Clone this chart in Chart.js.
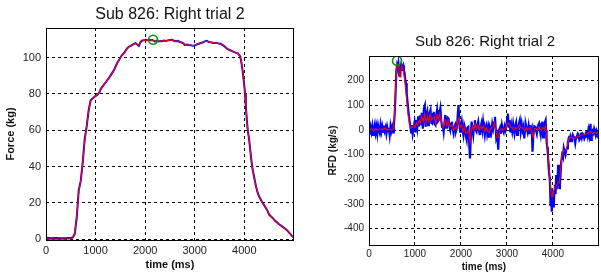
<!DOCTYPE html>
<html><head><meta charset="utf-8">
<script src="https://cdn.jsdelivr.net/npm/chart.js@4/dist/chart.umd.min.js"></script>
<style>
html,body{margin:0;padding:0;background:#fff;overflow:hidden;width:601px;height:273px;}
canvas{position:absolute;top:0;}
#c1{left:0;} #c2{left:305px;}
</style></head><body>
<canvas id="c1" width="300" height="273"></canvas>
<canvas id="c2" width="300" height="273"></canvas>
<script>
// ---------- data ----------
const chartTitle = "Sub 826: Right trial 2";
const xTicks = [0, 1000, 2000, 3000, 4000];
const forceTicks = [0, 20, 40, 60, 80, 100];
const rfdTicks = [-400, -300, -200, -100, 0, 100, 200];

const forceTime = [0,100,200,300,400,500,540,580,620,660,700,740,780,820,860,900,940,980,1040,1080,1110,1140,1175,1210,1240,1275,1310,1345,1375,1410,1445,1480,1510,1545,1575,1610,1640,1675,1710,1740,1775,1805,1840,1873,1905,1940,1975,2010,2040,2075,2110,2140,2170,2200,2235,2270,2300,2340,2380,2420,2460,2500,2540,2580,2620,2660,2700,2735,2770,2800,2840,2880,2920,2960,3000,3040,3080,3120,3160,3200,3240,3280,3320,3360,3400,3440,3480,3520,3560,3600,3630,3665,3700,3735,3765,3800,3835,3865,3895,3918,3940,3964,3985,4000,4015,4031,4050,4070,4098,4120,4140,4170,4200,4236,4270,4300,4340,4370,4400,4440,4470,4500,4540,4580,4620,4660,4700,4740,4780,4820,4860,4900,4940,4970,5000];
const forceRaw = [0.8,0.6,0.7,0.5,0.6,0.8,1.0,3,12,27,32,42,55,62,71,76.5,77.5,78.5,79.5,81,83,84,85.4,86.5,87.8,89,90.5,92,93.3,95.5,97.5,99,100.5,101.8,102.5,104,105.2,106.1,106.5,107,107.6,108,107.2,106.5,108.5,109.4,109.5,109.8,109.6,109.8,109.6,109.7,109.4,108.8,109.3,108.9,109.1,109.0,109.4,109.2,109.5,109.7,109.8,109.3,109.0,109.2,108.6,108.3,107.8,107.0,107.2,106.9,106.8,106.6,106.7,107.2,107.6,108.0,108.3,108.9,109.2,108.6,108.4,108.2,108.0,108.1,107.8,107.6,107.0,106.2,105.4,104.7,104.2,103.8,103.4,103.0,102.6,102.4,101.5,100.6,97.5,93.3,88,84.5,80,73,66,60,54.7,49,44,38,34,29,25.5,23.5,21.5,20,18.8,17,15.5,13.6,12.5,11.5,10.2,9.3,8.3,7.5,6.7,5.9,5.0,3.8,2.5,1.5,1.0];
const forceFilt = [0.1,0.1,0.1,0.1,0.1,0.3,0.8,3.5,12.5,26,32.5,42,54,62.5,70.5,76,77.6,78.6,79.6,81.2,82.8,84,85.3,86.6,87.7,89,90.4,92,93.4,95.4,97.4,99,100.4,101.7,102.6,104,105.1,106,106.6,107,107.5,107.8,107.3,106.8,108.3,109.2,109.5,109.7,109.6,109.7,109.6,109.6,109.3,109.0,109.2,109.0,109.1,109.1,109.3,109.3,109.5,109.6,109.7,109.3,109.1,109.1,108.6,108.2,107.8,107.2,107.1,106.9,106.8,106.7,106.8,107.2,107.6,108.0,108.4,108.8,109.0,108.7,108.4,108.2,108.1,108.0,107.8,107.5,107.0,106.2,105.5,104.8,104.2,103.8,103.4,103.0,102.7,102.3,101.5,100.2,97.2,93,88.3,84.3,79.8,73.3,66.3,60,54.5,49.2,44.2,38.2,33.8,29.2,25.6,23.4,21.4,20,18.7,17,15.6,13.7,12.4,11.4,10.3,9.3,8.3,7.5,6.7,5.9,4.9,3.8,2.6,1.6,1.0];
const forcePeak = [2160, 109.8];

const rfdTime = [0,18,36,54,72,90,108,126,144,162,180,198,216,234,252,270,288,306,324,342,360,378,396,414,432,450,468,486,504,522,540,560,580,595,610,625,640,655,670,685,700,715,730,745,760,775,790,805,820,840,860,880,900,915,930,950,970,990,1010,1030,1050,1070,1090,1110,1130,1150,1170,1195,1215,1231,1250,1267,1285,1302,1320,1338,1356,1374,1392,1409,1427,1445,1463,1481,1499,1517,1535,1552,1570,1588,1606,1624,1642,1660,1678,1695,1713,1731,1749,1767,1785,1802,1820,1838,1856,1874,1892,1910,1930,1946,1964,1981,2000,2017,2035,2053,2071,2089,2107,2124,2142,2160,2178,2196,2214,2232,2250,2267,2285,2303,2321,2339,2357,2375,2393,2410,2428,2446,2464,2482,2500,2518,2536,2554,2572,2590,2611,2625,2640,2660,2680,2700,2720,2740,2755,2768,2790,2811,2830,2850,2870,2890,2910,2930,2950,2970,2990,3005,3020,3040,3056,3075,3095,3115,3135,3163,3180,3200,3220,3240,3260,3280,3300,3320,3340,3360,3377,3395,3413,3430,3450,3470,3484,3500,3520,3540,3556,3575,3595,3613,3630,3650,3663,3680,3699,3716,3734,3752,3770,3788,3806,3822,3841,3852,3863,3877,3892,3903,3914,3925,3935,3948,3955,3963,3970,3978,3990,3999,4010,4021,4032,4043,4057,4071,4082,4092,4103,4114,4128,4142,4152,4163,4180,4200,4218,4236,4254,4271,4290,4307,4325,4343,4360,4378,4396,4414,4432,4450,4468,4485,4503,4521,4540,4557,4575,4593,4610,4630,4648,4665,4683,4700,4718,4736,4755,4772,4790,4807,4818,4829,4845,4862,4880,4897,4914,4930,4948,4966,4983,5000];
const rfdRaw = [0,-18,10,-8,15,-20,5,22,-10,12,-15,18,0,-12,20,-5,14,-8,18,-3,10,-14,12,-6,8,-20,16,-4,12,-10,15,70,160,240,262,250,270,240,215,250,265,240,255,262,240,230,200,190,150,110,70,40,15,-10,20,-15,10,30,-10,40,10,55,15,60,20,70,5,88,100,13,60,74,20,34,70,81,30,27,65,74,25,20,60,81,35,40,70,88,40,13,20,-7,30,61,10,27,50,47,15,0,25,34,5,-13,10,20,-5,7,60,101,30,-7,15,34,0,-20,20,7,-25,-40,10,13,-50,-115,-30,34,5,-20,15,40,0,-7,20,34,0,-20,10,27,0,34,5,-20,10,20,-15,5,-27,15,7,-10,25,5,30,54,10,-34,-20,-80,0,10,-15,20,0,-10,15,0,20,45,67,10,40,-10,20,-5,25,-13,15,30,-20,7,25,40,-5,25,0,15,-34,5,20,5,-10,15,-13,20,0,10,-88,-20,15,13,0,-15,7,20,27,0,-20,10,34,-30,-7,30,40,0,-47,-70,-101,-140,-168,-190,-209,-304,-250,-236,-300,-331,-290,-263,-310,-290,-250,-222,-260,-182,-240,-222,-200,-141,-200,-236,-220,-195,-130,-101,-110,-74,-90,-101,-80,-74,-50,-34,-40,-27,-45,-40,-20,-27,-35,-54,-30,-27,-15,-20,-40,-34,-10,-30,-15,-18,-35,-27,-10,-7,-25,0,-20,13,25,-40,-15,-5,-13,5,-7,-20,-5,-20,-10,-8];

const rfdFiltTime = [0,50,100,150,200,250,300,350,400,450,500,530,555,575,595,615,635,655,675,695,715,735,755,775,795,815,835,855,875,895,915,940,970,1000,1030,1060,1090,1120,1150,1180,1210,1240,1270,1300,1330,1360,1390,1420,1450,1480,1510,1540,1570,1600,1630,1660,1690,1720,1750,1780,1810,1840,1870,1900,1930,1955,1985,2015,2045,2075,2105,2135,2165,2195,2220,2250,2280,2310,2340,2370,2400,2430,2460,2490,2520,2550,2580,2610,2640,2670,2700,2730,2760,2790,2820,2850,2880,2910,2940,2970,3000,3030,3060,3090,3120,3150,3180,3210,3240,3270,3300,3330,3360,3390,3420,3450,3480,3510,3540,3570,3600,3630,3660,3690,3720,3750,3780,3810,3840,3860,3880,3900,3920,3940,3960,3980,4000,4020,4050,4080,4110,4140,4160,4180,4200,4230,4260,4290,4320,4350,4380,4420,4460,4500,4540,4580,4620,4660,4700,4740,4780,4820,4860,4900,4950,5000];
const rfdFilt = [0,5,-3,5,0,5,2,8,0,3,0,5,60,150,230,268,262,235,215,245,262,250,230,205,170,130,90,55,30,12,8,10,20,10,30,20,40,30,55,35,65,30,55,35,65,40,50,55,25,60,45,65,40,10,15,40,20,40,20,15,20,0,10,5,40,50,10,20,-5,10,-15,-10,0,-50,-10,15,0,25,5,20,0,15,5,15,-5,10,-5,-10,5,10,15,30,-5,-30,-30,0,5,0,5,5,25,30,20,10,10,0,10,5,10,20,10,10,5,-5,10,0,5,10,-10,-30,5,5,0,15,5,0,10,5,15,-20,-60,-110,-155,-210,-255,-270,-260,-245,-230,-225,-215,-215,-180,-130,-100,-85,-85,-80,-55,-35,-30,-30,-35,-30,-25,-25,-20,-20,-18,-15,-10,-5,-15,-10,-12,-10];
const rfdPeak = [609, 281];

// ---------- helpers ----------
const FONT = "'Liberation Sans', Arial, Helvetica, sans-serif";
function pts(xs, ys) { return xs.map((x, i) => ({x: x, y: ys[i]})); }

const boxPlugin = {
  id: 'box',
  afterDraw(chart, args, opts) {
    const {ctx, chartArea: a} = chart;
    ctx.save();
    ctx.strokeStyle = '#000';
    ctx.lineWidth = 1;
    ctx.setLineDash([]);
    ctx.strokeRect(Math.round(a.left) + 0.5, Math.round(a.top) + 0.5, Math.round(a.right - a.left) - 1, Math.round(a.bottom - a.top));
    ctx.fillStyle = '#111';
    ctx.font = opts.size + 'px ' + FONT;
    ctx.textAlign = 'center';
    ctx.textBaseline = 'alphabetic';
    ctx.fillText(opts.text, opts.x, opts.y);
    ctx.restore();
  }
};

function makeChart(id, cfg) {
  const tickFont = {family: FONT, size: cfg.tickSize};
  const titleFont = {family: FONT, size: cfg.labelSize, weight: 'bold'};
  return new Chart(document.getElementById(id), {
    type: 'line',
    data: {
      datasets: [
        {data: cfg.blue, borderColor: '#0000ff', borderWidth: cfg.blueWidth, pointRadius: 0, tension: 0, order: 3},
        {data: cfg.red, borderColor: '#ff0000', borderWidth: 1.1, pointRadius: 0, tension: 0, order: 2},
        {data: [cfg.peak], borderColor: '#009900', backgroundColor: 'rgba(0,0,0,0)', borderWidth: 1.6,
         pointRadius: 4.5, pointStyle: 'circle', showLine: false, order: 1}
      ]
    },
    options: {
      responsive: false, animation: false, devicePixelRatio: 1,
      layout: {padding: cfg.padding},
      plugins: {legend: {display: false}, tooltip: {enabled: false},
                box: {text: chartTitle, x: cfg.titleX, y: cfg.titleY, size: cfg.titleSize}},
      scales: {
        x: {type: 'linear', min: 0, max: 5000,
            afterBuildTicks: s => { s.ticks = xTicks.map(v => ({value: v})); },
            afterFit: s => { s.height = cfg.xHeight; },
            grid: {color: '#000', lineWidth: 1, drawTicks: false},
            border: {display: false, dash: [3, 3]},
            ticks: {font: tickFont, color: '#222', padding: cfg.xTickPad, maxRotation: 0, callback: v => String(v)},
            title: {display: true, text: 'time (ms)', font: titleFont, color: '#111', padding: {top: 0, bottom: cfg.xTitlePad}}},
        y: {type: 'linear', min: cfg.ymin, max: cfg.ymax,
            afterBuildTicks: s => { s.ticks = cfg.yTicks.map(v => ({value: v})); },
            afterFit: s => { s.width = cfg.yWidth; },
            grid: {color: '#000', lineWidth: 1, drawTicks: false},
            border: {display: false, dash: [3, 3]},
            ticks: {font: tickFont, color: '#222', padding: 5, callback: v => String(v)},
            title: {display: true, text: cfg.yLabel, font: titleFont, color: '#111', padding: {top: 4, bottom: 4}}}
      }
    },
    plugins: [boxPlugin]
  });
}

makeChart('c1', {
  blue: pts(forceTime, forceRaw), red: pts(forceTime, forceFilt), peak: {x: forcePeak[0], y: forcePeak[1]},
  blueWidth: 2, ymin: -0.4, ymax: 116.3, yTicks: forceTicks, yLabel: 'Force (kg)',
  padding: {left: 0, top: 28, right: 2, bottom: 0}, yWidth: 46, xHeight: 33,
  tickSize: 11, labelSize: 11, titleSize: 16, titleX: 170, titleY: 19, xTickPad: 4, xTitlePad: 1
});

makeChart('c2', {
  blue: pts(rfdTime, rfdRaw), red: pts(rfdFiltTime, rfdFilt), peak: {x: rfdPeak[0], y: rfdPeak[1]},
  blueWidth: 2.2, ymin: -466, ymax: 300, yTicks: rfdTicks, yLabel: 'RFD (kg/s)',
  padding: {left: 18, top: 56, right: 3, bottom: 0}, yWidth: 46, xHeight: 28,
  tickSize: 10, labelSize: 10, titleSize: 15, titleX: 485 - 305, titleY: 46, xTickPad: 3, xTitlePad: 0
});
</script>
</body></html>
